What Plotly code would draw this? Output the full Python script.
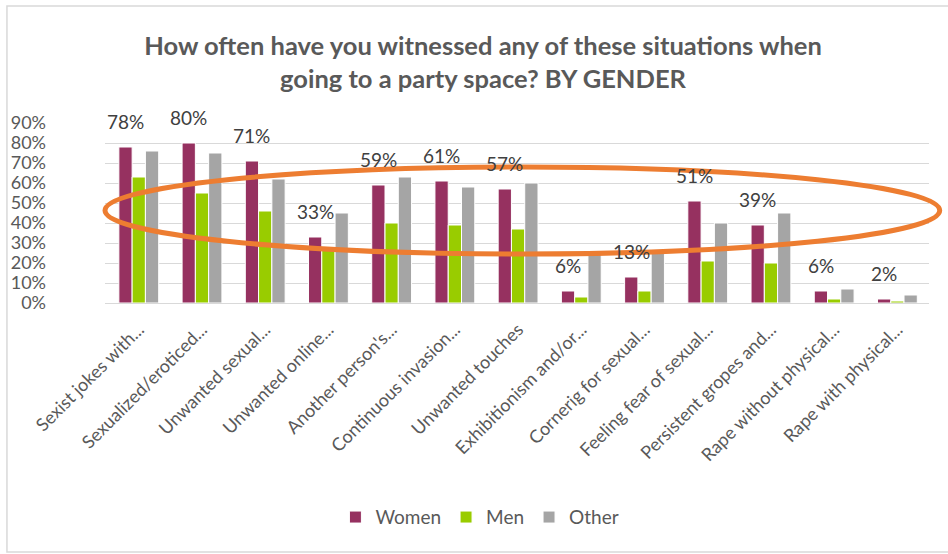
import plotly.graph_objects as go

categories = [
    "Sexist jokes with...", "Sexualized/eroticed...", "Unwanted sexual...",
    "Unwanted online...", "Another person's...", "Continuous invasion...",
    "Unwanted touches", "Exhibitionism and/or...", "Cornerig for sexual...",
    "Feeling fear of sexual...", "Persistent gropes and...",
    "Rape without physical...", "Rape with physical...",
]
women = [78, 80, 71, 33, 59, 61, 57, 6, 13, 51, 39, 6, 2]
men = [63, 55, 46, 28, 40, 39, 37, 3, 6, 21, 20, 2, 1]
other = [76, 75, 62, 45, 63, 58, 60, 25, 26, 40, 45, 7, 4]
y_ticks = [0, 10, 20, 30, 40, 50, 60, 70, 80, 90]
y_tick_labels = [f"{t}%" for t in y_ticks]

FONT = "Lato"
GRAY = "#595959"
BARGAP = 0.37

fig = go.Figure()
for name, vals, col in [("Women", women, "#963160"), ("Men", men, "#99CC00"), ("Other", other, "#A5A5A5")]:
    fig.add_trace(go.Bar(
        x=categories, y=vals, name=name,
        marker=dict(color=col, line=dict(color="white", width=1)),
    ))

# data labels over Women bars
bar_w = (1 - BARGAP) / 3
for i, v in enumerate(women):
    fig.add_annotation(
        x=i - bar_w, y=v, xref="x", yref="y", text=f"{v}%",
        showarrow=False, yanchor="bottom", yshift=12,
        font=dict(family=FONT, size=19, color="#404040"),
    )

# orange highlight ellipse
fig.add_shape(type="circle", xref="paper", yref="paper",
              x0=0.0, x1=1.013, y0=0.272, y1=0.756,
              line=dict(color="#ED7D31", width=5))
# chart border
fig.add_shape(type="rect", xref="paper", yref="paper",
              x0=-0.119, x1=1.05, y0=-1.383, y1=1.65,
              line=dict(color="#D9D9D9", width=1.5))

fig.update_layout(
    width=948, height=554,
    margin=dict(l=105, r=19, t=123, b=251),
    paper_bgcolor="white", plot_bgcolor="white",
    barmode="group", bargap=BARGAP, bargroupgap=0.0,
    title=dict(
        text="How often have you witnessed any of these situations when<br>going to a party space? BY GENDER",
        x=483 / 948, xanchor="center", y=1 - 55 / 554, yanchor="top",
        font=dict(family=FONT, size=25.5, color=GRAY, weight="bold"),
    ),
    font=dict(family=FONT, color=GRAY),
    xaxis=dict(
        tickangle=-45, tickfont=dict(family=FONT, size=18, color=GRAY),
        showline=True, linecolor="#D9D9D9", linewidth=1, ticks="",
        showgrid=False, ticklabelstandoff=8,
    ),
    yaxis=dict(
        range=[0, 90], tickvals=y_ticks, ticktext=y_tick_labels,
        tickfont=dict(family=FONT, size=18, color=GRAY),
        showgrid=True, gridcolor="#D9D9D9", gridwidth=1,
        zeroline=False, showline=False, ticks="", ticklabelstandoff=58,
    ),
    legend=dict(
        orientation="h", x=0.455, xanchor="center", y=-1.19, yanchor="middle",
        font=dict(family=FONT, size=19, color=GRAY), itemwidth=30,
    ),
    showlegend=True,
)

fig.write_html(
    "out.html",
    config={"displayModeBar": False},
    post_script="document.body.style.margin='0';document.body.style.overflow='hidden';",
)
